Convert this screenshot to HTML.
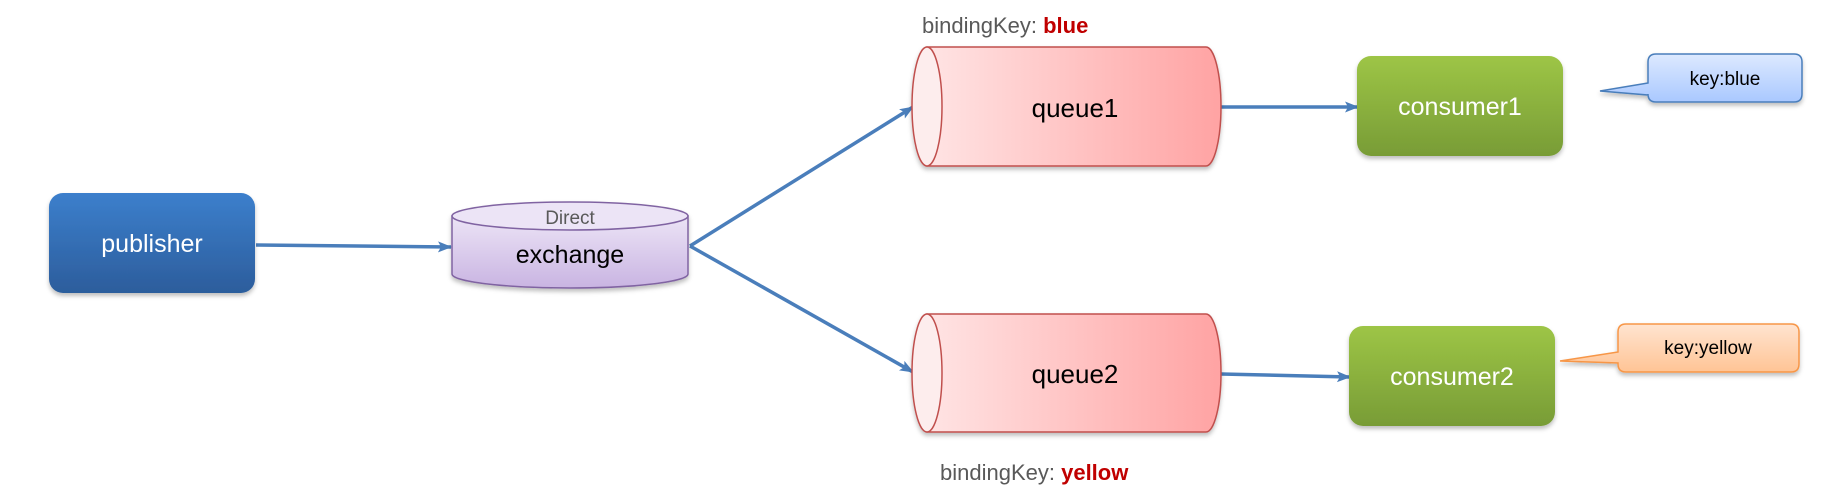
<!DOCTYPE html>
<html><head><meta charset="utf-8"><style>
html,body{margin:0;padding:0;background:#fff;}
svg{display:block;}
text{font-family:"Liberation Sans",sans-serif;}
</style></head><body>
<svg width="1838" height="501" viewBox="0 0 1838 501" xmlns="http://www.w3.org/2000/svg">
<defs>
<linearGradient id="pub" x1="0" y1="0" x2="0" y2="1"><stop offset="0" stop-color="#3c7fcc"/><stop offset="1" stop-color="#2c5d9c"/></linearGradient>
<linearGradient id="exg" x1="0" y1="0" x2="0" y2="1"><stop offset="0" stop-color="#ece4f6"/><stop offset="1" stop-color="#c9b4e2"/></linearGradient>
<linearGradient id="q" x1="0" y1="0" x2="1" y2="0"><stop offset="0" stop-color="#ffe4e4"/><stop offset="1" stop-color="#ffa3a3"/></linearGradient>
<linearGradient id="con" x1="0" y1="0" x2="0" y2="1"><stop offset="0" stop-color="#9dc546"/><stop offset="1" stop-color="#789c36"/></linearGradient>
<linearGradient id="kb" x1="0" y1="0" x2="0" y2="1"><stop offset="0" stop-color="#dde9ff"/><stop offset="1" stop-color="#a9c8ff"/></linearGradient>
<linearGradient id="ky" x1="0" y1="0" x2="0" y2="1"><stop offset="0" stop-color="#ffe4d0"/><stop offset="1" stop-color="#ffc495"/></linearGradient>
<marker id="ah" markerWidth="14" markerHeight="14" refX="13" refY="7" orient="auto" markerUnits="userSpaceOnUse"><path d="M0,1.5 L14,7 L0,12.5 L3,7 Z" fill="#4a7ebb"/></marker>
<filter id="sh" x="-10%" y="-10%" width="120%" height="130%"><feDropShadow dx="0" dy="3" stdDeviation="2" flood-color="#000" flood-opacity="0.25"/></filter>
</defs>

<g stroke="#4a7ebb" stroke-width="3.5" fill="none" marker-end="url(#ah)">
<line x1="256" y1="245" x2="451" y2="247"/>
<line x1="690" y1="246" x2="913" y2="107"/>
<line x1="690" y1="246" x2="913" y2="372"/>
<line x1="1221" y1="107" x2="1358" y2="107"/>
<line x1="1221" y1="374" x2="1350" y2="377"/>
</g>

<rect x="49" y="193" width="206" height="100" rx="14" fill="url(#pub)" filter="url(#sh)"/>
<text x="152" y="252" font-size="25" fill="#fff" text-anchor="middle">publisher</text>

<g filter="url(#sh)">
<path d="M452,216 V274 A118,14 0 0 0 688,274 V216 Z" fill="url(#exg)" stroke="#8064a2" stroke-width="1.5"/>
<ellipse cx="570" cy="216" rx="118" ry="14" fill="#ece4f6" stroke="#8064a2" stroke-width="1.5"/>
</g>
<text x="570" y="224" font-size="19" fill="#595959" text-anchor="middle">Direct</text>
<text x="570" y="263" font-size="25" fill="#000" text-anchor="middle">exchange</text>

<g filter="url(#sh)">
<path d="M927,47 H1206 A15,59.5 0 0 1 1206,166 H927 Z" fill="url(#q)" stroke="#c0504d" stroke-width="1.5"/>
<ellipse cx="927" cy="106.5" rx="15" ry="59.5" fill="#fdeded" stroke="#c0504d" stroke-width="1.5"/>
</g>
<text x="1075" y="117" font-size="26" fill="#000" text-anchor="middle">queue1</text>
<text x="922" y="33" font-size="22" fill="#595959">bindingKey: <tspan fill="#c00000" font-weight="bold">blue</tspan></text>

<g filter="url(#sh)">
<path d="M927,314 H1206 A15,59 0 0 1 1206,432 H927 Z" fill="url(#q)" stroke="#c0504d" stroke-width="1.5"/>
<ellipse cx="927" cy="373" rx="15" ry="59" fill="#fdeded" stroke="#c0504d" stroke-width="1.5"/>
</g>
<text x="1075" y="383" font-size="26" fill="#000" text-anchor="middle">queue2</text>
<text x="940" y="480" font-size="22" fill="#595959">bindingKey: <tspan fill="#c00000" font-weight="bold">yellow</tspan></text>

<rect x="1357" y="56" width="206" height="100" rx="14" fill="url(#con)" filter="url(#sh)"/>
<text x="1460" y="115" font-size="25" fill="#fff" text-anchor="middle">consumer1</text>
<rect x="1349" y="326" width="206" height="100" rx="14" fill="url(#con)" filter="url(#sh)"/>
<text x="1452" y="385" font-size="25" fill="#fff" text-anchor="middle">consumer2</text>

<path d="M1656,54 H1794 Q1802,54 1802,62 V94 Q1802,102 1794,102 H1656 Q1648,102 1648,94 V95 L1600,91 L1648,83 V62 Q1648,54 1656,54 Z" fill="url(#kb)" stroke="#4a7ebb" stroke-width="1.5" filter="url(#sh)"/>
<text x="1725" y="85" font-size="19" fill="#000" text-anchor="middle">key:blue</text>
<path d="M1626,324 H1791 Q1799,324 1799,332 V364 Q1799,372 1791,372 H1626 Q1618,372 1618,364 V363 L1560,361 L1618,352 V332 Q1618,324 1626,324 Z" fill="url(#ky)" stroke="#f79646" stroke-width="1.5" filter="url(#sh)"/>
<text x="1708" y="354" font-size="19" fill="#000" text-anchor="middle">key:yellow</text>
</svg>
</body></html>
